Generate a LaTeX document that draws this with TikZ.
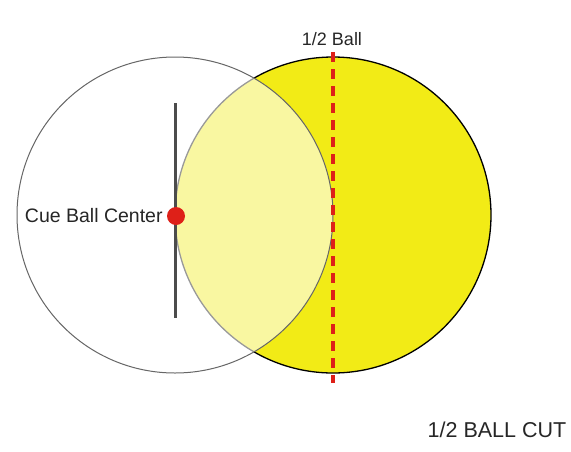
\documentclass[tikz,border=0pt]{standalone}
\usepackage{fontspec}
\setmainfont{Liberation Sans}
\usepackage{tikz}
\usetikzlibrary{positioning}
\definecolor{objyellow}{RGB}{242,235,22}
\definecolor{aimred}{RGB}{222,32,24}
\tikzset{
  objball/.style={draw=black, line width=1.3pt, circle, fill=objyellow, minimum size=316pt, inner sep=0pt},
  cueball/.style={draw=black!60, line width=1pt, circle, fill=white, fill opacity=0.6, minimum size=316pt, inner sep=0pt},
  centerdot/.style={circle, fill=aimred, minimum size=18pt, inner sep=0pt},
  label/.style={font=\fontsize{18}{21}\selectfont, text=black!85, inner sep=1pt},
  stick/.style={draw=black!70, line width=3pt},
  aimline/.style={draw=aimred, line width=3.5pt, dash pattern=on 10pt off 7pt}
}
\begin{document}
\begin{tikzpicture}[x=1pt,y=-1pt]
  \useasboundingbox (0,0) rectangle (571,451);
  \node[objball] (obj) at (333,215) {};
  \node[cueball] (cue) at (175,215) {};

  \coordinate (sticktop) at (175,103);
  \coordinate (stickbot) at (175,318);
  \draw[stick] (sticktop) -- (stickbot);
  \node[centerdot] (ctr) at (176,216) {};

  \coordinate (aimtop) at (333,52);
  \coordinate (aimbot) at (333,383);
  \draw[aimline] (aimtop) -- (aimbot);

  \node[label, anchor=base] (half) at (332,45) {1/2 Ball};
  \node[label, left=3pt of ctr, font=\fontsize{19.5}{22}\selectfont] (ctrlbl) {Cue Ball Center};
  \node[label, anchor=base, font=\fontsize{21.5}{24}\selectfont] (cut) at (497,437) {1/2 BALL CUT};
\end{tikzpicture}
\end{document}
